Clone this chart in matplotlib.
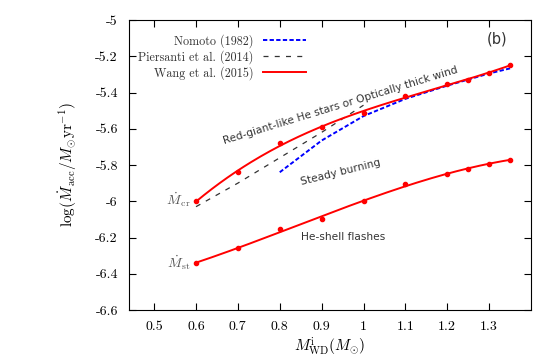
import numpy as np
import matplotlib
matplotlib.use("Agg")
import matplotlib.pyplot as plt

plt.rcParams['font.family'] = 'cmr10'
plt.rcParams['mathtext.fontset'] = 'cm'
plt.rcParams['axes.unicode_minus'] = False
plt.rcParams['axes.formatter.use_mathtext'] = True

# Wang et al. (2015) data points
wang_m = [0.6, 0.7, 0.8, 0.9, 1.0, 1.1, 1.2, 1.25, 1.3, 1.35]
wang_cr = [-6.00, -5.84, -5.68, -5.59, -5.515, -5.42, -5.355, -5.33, -5.29, -5.25]
wang_st = [-6.34, -6.26, -6.155, -6.10, -6.00, -5.905, -5.85, -5.82, -5.795, -5.77]

# Nomoto (1982)
nom_m = [0.8, 0.9, 1.0, 1.1, 1.2, 1.3, 1.35]
nom_y = [-5.84, -5.665, -5.53, -5.435, -5.362, -5.295, -5.267]

# Piersanti et al. (2014)
pier_m = [0.6, 0.7, 0.8, 0.9, 1.0]
pier_y = [-6.03, -5.90, -5.76, -5.62, -5.47]

fig = plt.figure(figsize=(5.56, 3.61), dpi=100)
ax = fig.add_axes([129/556, 1-310/361, 402/556, 290/361])

ax.plot(nom_m, nom_y, color='blue', ls=(0, (2.2, 1.2)), lw=1.4, label='Nomoto (1982)')
ax.plot(pier_m, pier_y, color='#333333', ls=(0, (4, 5)), lw=0.9, label='Piersanti et al. (2014)')

# smooth fits through the Wang et al. points
xs = np.linspace(0.6, 1.35, 200)
fit_cr = np.polyval(np.polyfit(wang_m, wang_cr, 3), xs)
fit_st = np.polyval(np.polyfit(wang_m, wang_st, 3), xs)
ax.plot(xs, fit_cr, color='red', lw=1.4, label='Wang et al. (2015)')
ax.plot(xs, fit_st, color='red', lw=1.4)
ax.plot(wang_m, wang_cr, 'o', color='red', ms=3)
ax.plot(wang_m, wang_st, 'o', color='red', ms=3)

ax.set_xlim(0.44, 1.4)
ax.set_ylim(-6.6, -5.0)
ax.set_xticks([0.5, 0.6, 0.7, 0.8, 0.9, 1.0, 1.1, 1.2, 1.3])
ax.set_xticklabels(['0.5', '0.6', '0.7', '0.8', '0.9', '1', '1.1', '1.2', '1.3'])
ax.set_yticks(np.arange(-6.6, -4.99, 0.2))
ax.set_yticklabels(['-6.6', '-6.4', '-6.2', '-6', '-5.8', '-5.6', '-5.4', '-5.2', '-5'])
ax.tick_params(direction='in', top=True, right=True, labelsize=10, length=5, width=0.8, pad=8)

ax.set_xlabel(r'$M^{\rm i}_{\rm WD}(M_{\odot})$', fontsize=11, labelpad=2)
ax.set_ylabel(r'$\log(\dot M_{\rm acc}/M_{\odot}{\rm yr}^{-1})$', fontsize=11, labelpad=12)

leg = ax.legend(loc='upper left', bbox_to_anchor=(-0.005, 0.99), frameon=False, markerfirst=False,
                fontsize=8.7, handlelength=3.6, handletextpad=0.8, labelspacing=0.2)
for t in leg.get_texts():
    t.set_ha('right')
    t.set_color('#333333')

sans = 'DejaVu Sans'
gray = '#333333'
ax.text(0.945, -5.47, 'Red-giant-like He stars or Optically thick wind', family=sans, fontsize=7.7,
        rotation=17, ha='center', va='center', color=gray)
ax.text(0.945, -5.84, 'Steady burning', family=sans, fontsize=7.7, rotation=14,
        ha='center', va='center', color=gray)
ax.text(0.952, -6.20, 'He-shell flashes', family=sans, fontsize=7.7,
        ha='center', va='center', color=gray)
ax.text(1.318, -5.105, '(b)', family=sans, fontsize=10.5, ha='center', va='center', color=gray)
ax.text(0.587, -5.99, r'$\dot M_{\rm cr}$', fontsize=10, ha='right', va='center', color='#555555')
ax.text(0.587, -6.34, r'$\dot M_{\rm st}$', fontsize=10, ha='right', va='center', color='#555555')

fig.savefig('out.png', dpi=100)
